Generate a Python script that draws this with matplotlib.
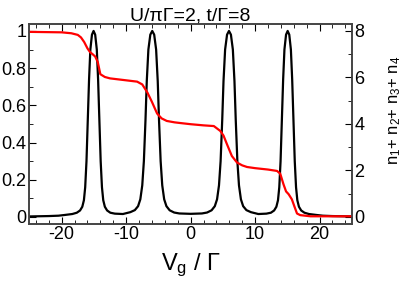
import matplotlib
matplotlib.use("Agg")
import matplotlib.pyplot as plt
from matplotlib.ticker import MultipleLocator

plt.rcParams['font.family'] = ['Liberation Sans', 'DejaVu Sans']
plt.rcParams['mathtext.fontset'] = 'custom'
plt.rcParams['mathtext.rm'] = 'Liberation Sans'
plt.rcParams['mathtext.it'] = 'Liberation Sans'
plt.rcParams['axes.unicode_minus'] = False

# conductance (left axis)
vg_g = [-25, -22, -20.5, -19.5, -18.35, -17.65, -17.15, -16.8, -16.55, -16.35, -16.15,
        -15.95, -15.75, -15.55, -15.3, -15.05, -14.8, -14.55, -14.35, -14.15,
        -13.95, -13.75, -13.55, -13.3, -12.95, -12.45, -11.75, -10.5,
        -9.35, -8.65, -8.15, -7.8, -7.5, -7.25, -7.0, -6.8, -6.55, -6.25, -5.95,
        -5.65, -5.35, -5.1, -4.9, -4.65, -4.4, -4.1, -3.75, -3.25, -2.55, -1.75, 0,
        1.75, 2.55, 3.25, 3.75, 4.1, 4.4, 4.65, 4.9, 5.1, 5.35, 5.65, 5.95,
        6.25, 6.55, 6.8, 7.0, 7.25, 7.5, 7.8, 8.15, 8.65, 9.35,
        10.5, 11.75, 12.45, 12.95, 13.3, 13.55, 13.75, 13.95, 14.15, 14.35, 14.55,
        14.8, 15.05, 15.3, 15.55, 15.75, 15.95, 16.15, 16.35, 16.55, 16.8,
        17.15, 17.65, 18.35, 19.5, 20.5, 22, 25]
cond = [0.003, 0.005, 0.007, 0.011, 0.016, 0.023, 0.035, 0.055, 0.09, 0.16, 0.3,
        0.52, 0.74, 0.9, 0.98, 1.0, 0.98, 0.9, 0.74, 0.52,
        0.3, 0.16, 0.09, 0.055, 0.035, 0.023, 0.018, 0.016,
        0.026, 0.037, 0.058, 0.095, 0.17, 0.3, 0.52, 0.73, 0.9, 0.98, 1.0,
        0.98, 0.9, 0.73, 0.52, 0.3, 0.17, 0.095, 0.058, 0.036, 0.024, 0.019, 0.017,
        0.019, 0.024, 0.036, 0.058, 0.095, 0.17, 0.3, 0.52, 0.73, 0.9, 0.98, 1.0,
        0.98, 0.9, 0.73, 0.52, 0.3, 0.17, 0.095, 0.058, 0.037, 0.026,
        0.016, 0.018, 0.023, 0.035, 0.055, 0.09, 0.16, 0.3, 0.52, 0.74, 0.9,
        0.98, 1.0, 0.98, 0.9, 0.74, 0.52, 0.3, 0.16, 0.09, 0.055,
        0.035, 0.023, 0.016, 0.011, 0.007, 0.005, 0.003]

# total occupancy n1+n2+n3+n4 (right axis)
vg_n = [-25, -20, -18.5, -17.5, -17.0, -16.5, -16.0, -15.6, -15.2, -14.8, -14.4,
        -14.0, -13.3, -12.5, -11, -9.5, -8.3, -7.5, -6.7, -6.0, -5.2, -4.5,
        -3.7, -2.5, -1.6, 0, 2, 3.6, 4.6, 5.1, 5.65, 6.4, 7.2, 8.0, 8.75, 10,
        12, 13.4, 13.9, 14.4, 14.8, 15.2, 15.7, 16.1, 16.5, 17.0, 18.6, 20, 25]
occ = [7.96, 7.94, 7.9, 7.83, 7.72, 7.52, 7.25, 7.09, 7.0, 6.9, 6.66,
       6.14, 6.02, 5.96, 5.91, 5.86, 5.82, 5.7, 5.35, 4.95, 4.45, 4.24,
       4.13, 4.07, 4.04, 3.99, 3.94, 3.91, 3.7, 3.5, 3.12, 2.62, 2.34, 2.22, 2.15, 2.1,
       2.04, 1.98, 1.86, 1.41, 1.1, 0.98, 0.76, 0.45, 0.15, 0.08, 0.03, 0.03, 0.03]

fig = plt.figure(figsize=(4.03, 2.84), dpi=100)
ax = fig.add_axes([0.073, 0.213, 0.8, 0.701])
ax2 = ax.twinx()

ax.plot(vg_g, cond, color='black', lw=1.6)
ax2.plot(vg_n, occ, color='#ff0000', lw=1.6)

ax.set_xlim(-25, 25)
ax.set_ylim(-0.035, 1.035)
ax2.set_ylim(-0.035 * 8, 1.035 * 8)

ax.xaxis.set_major_locator(MultipleLocator(10))
ax.xaxis.set_minor_locator(MultipleLocator(2))
ax.yaxis.set_major_locator(MultipleLocator(0.2))
ax.yaxis.set_minor_locator(MultipleLocator(0.1))
ax2.yaxis.set_major_locator(MultipleLocator(2))
ax2.yaxis.set_minor_locator(MultipleLocator(1))

ax.tick_params(which='both', direction='in', top=True, right=False, labelsize=13, pad=2)
ax.tick_params(which='major', length=5)
ax.tick_params(which='minor', length=3)
ax2.tick_params(which='both', direction='in', labelsize=13, pad=2)
ax2.tick_params(which='major', length=5)
ax2.tick_params(which='minor', length=3)

ax.set_yticks([0, 0.2, 0.4, 0.6, 0.8, 1.0])
ax.set_yticklabels(['0', '0.2', '0.4', '0.6', '0.8', '1'])

for a in (ax, ax2):
    for s in a.spines.values():
        s.set_color('#444444')
        s.set_linewidth(1.2)

ax.set_title('U/πΓ=2, t/Γ=8', fontsize=14, pad=3)
ax.set_xlabel(r'V$_\mathregular{g}$ / Γ', fontsize=17, labelpad=6)
ax2.set_ylabel(r'n$_\mathregular{1}$+ n$_\mathregular{2}$+ n$_\mathregular{3}$+ n$_\mathregular{4}$',
               fontsize=12)
ax2.yaxis.set_label_coords(1.11, 0.57)

fig.savefig('out.png', dpi=100)
